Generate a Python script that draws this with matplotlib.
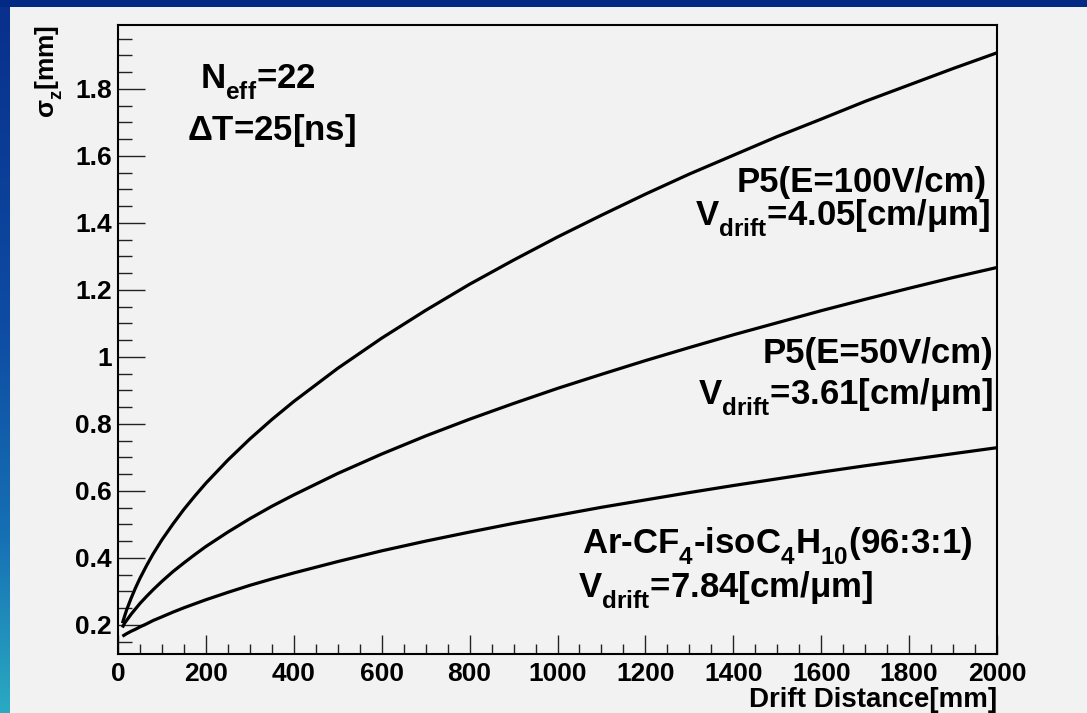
import numpy as np
import matplotlib
matplotlib.use("Agg")
import matplotlib.pyplot as plt
from matplotlib.ticker import MultipleLocator, FuncFormatter
from matplotlib.colors import LinearSegmentedColormap
from matplotlib.patches import Rectangle

plt.rcParams["font.family"] = ["Liberation Sans", "DejaVu Sans"]
plt.rcParams["font.weight"] = "bold"
plt.rcParams["mathtext.fontset"] = "custom"
plt.rcParams["mathtext.rm"] = "Liberation Sans"
plt.rcParams["mathtext.it"] = "Liberation Sans:italic"
plt.rcParams["mathtext.bf"] = "Liberation Sans:bold"

# deeper subscripts, ROOT TLatex style
try:
    from matplotlib import _mathtext
    _mathtext.FontConstantsBase.sub1 = 0.62
except Exception:
    pass

# Drift distance [mm]
drift_mm = [10, 15, 20, 30, 40, 50, 65, 80, 100, 125, 150, 175, 200, 250, 300,
            350, 400, 500, 600, 700, 800, 900, 1000, 1100, 1200, 1300, 1400,
            1500, 1600, 1700, 1800, 1900, 2000]

# sigma_z [mm] for each gas / field setting
sigma_p5_e100 = [0.205, 0.226, 0.246, 0.280, 0.311, 0.339, 0.377, 0.412, 0.454,
                 0.501, 0.545, 0.585, 0.623, 0.692, 0.755, 0.813, 0.867, 0.966,
                 1.056, 1.139, 1.217, 1.289, 1.358, 1.423, 1.486, 1.546, 1.602,
                 1.658, 1.710, 1.763, 1.812, 1.861, 1.908]
sigma_p5_e50 = [0.192, 0.205, 0.214, 0.232, 0.248, 0.264, 0.285, 0.305, 0.330,
                0.359, 0.385, 0.410, 0.434, 0.477, 0.517, 0.554, 0.588, 0.652,
                0.710, 0.764, 0.814, 0.861, 0.906, 0.948, 0.989, 1.028, 1.066,
                1.102, 1.138, 1.172, 1.205, 1.237, 1.267]
sigma_arcf4 = [0.166, 0.170, 0.174, 0.181, 0.187, 0.194, 0.203, 0.213, 0.224,
               0.238, 0.251, 0.263, 0.275, 0.297, 0.318, 0.337, 0.355, 0.389,
               0.421, 0.450, 0.477, 0.503, 0.527, 0.551, 0.573, 0.595, 0.616,
               0.636, 0.656, 0.675, 0.693, 0.711, 0.729]

x_ticks = [0, 200, 400, 600, 800, 1000, 1200, 1400, 1600, 1800, 2000]
y_ticks = [0.2, 0.4, 0.6, 0.8, 1.0, 1.2, 1.4, 1.6, 1.8]

W, H = 1087, 713
fig = plt.figure(figsize=(W / 100, H / 100), dpi=100, facecolor="#f2f2f2")

# slide frame: navy band on top, blue-to-teal strip on the left
fig.patches.append(Rectangle((0, 1 - 7 / H), 1, 7 / H, transform=fig.transFigure,
                             facecolor="#002a84", edgecolor="none", zorder=0))
strip = fig.add_axes([0, 0, 10 / W, 1 - 7 / H])
strip.set_axis_off()
cmap = LinearSegmentedColormap.from_list(
    "frame", [(0.0, "#08308c"), (0.45, "#0e4ca3"), (0.75, "#1670b4"), (1.0, "#2aaac2")])
strip.imshow(np.linspace(0, 1, 256)[:, None], aspect="auto", cmap=cmap,
             extent=[0, 1, 0, 1])

left, right, top, bottom = 118, 997, 25, 654
ax = fig.add_axes([left / W, (H - bottom) / H, (right - left) / W, (bottom - top) / H])
ax.set_facecolor("#f2f2f2")

for ys in (sigma_p5_e100, sigma_p5_e50, sigma_arcf4):
    ax.plot(drift_mm, ys, color="black", lw=2.3, solid_capstyle="butt",
            solid_joinstyle="round")

ax.set_xlim(0, 2000)
ax.set_ylim(0.113, 1.991)
ax.set_xticks(x_ticks)
ax.set_yticks(y_ticks)
ax.xaxis.set_minor_locator(MultipleLocator(50))
ax.yaxis.set_minor_locator(MultipleLocator(0.05))
ax.yaxis.set_major_formatter(FuncFormatter(lambda v, p: f"{v:g}"))
ax.xaxis.set_major_formatter(FuncFormatter(lambda v, p: f"{v:g}"))

ax.tick_params(axis="y", which="major", direction="in", length=19.5, width=1.0,
               pad=4.3, labelsize=19, color="#222222")
ax.tick_params(axis="y", which="minor", direction="in", length=10, width=1.0,
               color="#222222")
ax.tick_params(axis="x", which="major", direction="in", length=13.7, width=1.0,
               pad=6, labelsize=19, color="#222222")
ax.tick_params(axis="x", which="minor", direction="in", length=7.2, width=1.0,
               color="#222222")
for s in ax.spines.values():
    s.set_linewidth(1.5)
    s.set_color("black")

# axis titles, aligned to the ends of the axes
fig.text(right / W, (H - 707) / H, "Drift Distance[mm]", ha="right", va="baseline",
         fontsize=20, fontweight="bold")
fig.text(49 / W, 1 - top / H, r"$\mathrm{\sigma}_{\mathbf{z}}$[mm]", rotation=90,
         ha="center", va="top", fontsize=19, fontweight="bold")

fs = 25
ax.text(186, 1.803, r"N$_{\mathbf{eff}}$=22", ha="left", va="baseline", fontsize=fs)
ax.text(157, 1.648, r"$\mathrm{\Delta}$T=25[ns]", ha="left", va="baseline", fontsize=fs)
ax.text(1977, 1.4925, "P5(E=100V/cm)", ha="right", va="baseline", fontsize=fs)
ax.text(1984, 1.394, r"V$_{\mathbf{drift}}$=4.05[cm/$\mathrm{\mu}$m]",
        ha="right", va="baseline", fontsize=fs)
ax.text(1991, 0.982, "P5(E=50V/cm)", ha="right", va="baseline", fontsize=fs)
ax.text(1991, 0.860, r"V$_{\mathbf{drift}}$=3.61[cm/$\mathrm{\mu}$m]",
        ha="right", va="baseline", fontsize=fs)
ax.text(1055, 0.415, r"Ar-CF$_{\mathbf{4}}$-isoC$_{\mathbf{4}}$H$_{\mathbf{10}}$(96:3:1)",
        ha="left", va="baseline", fontsize=fs)
ax.text(1046, 0.2836, r"V$_{\mathbf{drift}}$=7.84[cm/$\mathrm{\mu}$m]",
        ha="left", va="baseline", fontsize=fs)

fig.savefig("out.png", dpi=100, facecolor=fig.get_facecolor())
